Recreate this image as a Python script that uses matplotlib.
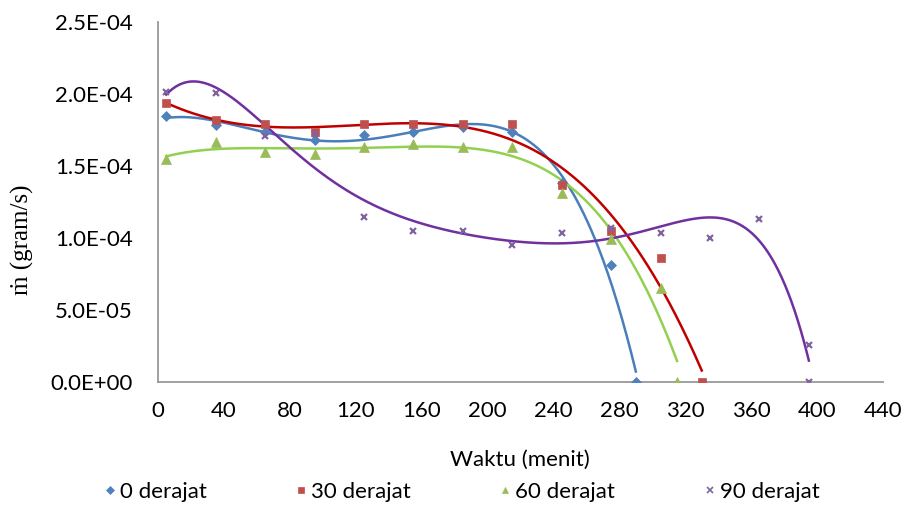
import numpy as np
import matplotlib
matplotlib.use("Agg")
import matplotlib.pyplot as plt

# ---- data ----
x0 = [5, 35, 65, 95, 125, 155, 185, 215, 245, 275, 290]
y0 = [1.847e-4, 1.785e-4, 1.734e-4, 1.681e-4, 1.715e-4, 1.734e-4, 1.773e-4, 1.734e-4, 1.38e-4, 8.13e-5, 0.0]

x30 = [5, 35, 65, 95, 125, 155, 185, 215, 245, 275, 305, 330]
y30 = [1.94e-4, 1.819e-4, 1.79e-4, 1.738e-4, 1.79e-4, 1.79e-4, 1.79e-4, 1.79e-4, 1.366e-4, 1.049e-4, 8.63e-5, 0.0]

x60 = [5, 35, 65, 95, 125, 155, 185, 215, 245, 275, 305, 315]
y60 = [1.549e-4, 1.669e-4, 1.60e-4, 1.583e-4, 1.634e-4, 1.65e-4, 1.634e-4, 1.634e-4, 1.315e-4, 9.93e-5, 6.55e-5, 0.0]

x90 = [5, 35, 65, 95, 125, 155, 185, 215, 245, 275, 305, 335, 365, 395, 395]
y90 = [2.016e-4, 2.005e-4, 1.708e-4, 1.72e-4, 1.148e-4, 1.049e-4, 1.049e-4, 9.5e-5, 1.032e-4, 1.067e-4, 1.032e-4, 9.98e-5, 1.13e-4, 2.57e-5, 0.0]

labels = ["0 derajat", "30 derajat", "60 derajat", "90 derajat"]
poly_orders = [4, 4, 4, 6]

xticks = list(range(0, 441, 40))
yticks = [0, 5e-5, 1e-4, 1.5e-4, 2e-4, 2.5e-4]

# ---- style ----
marker_colors = ["#4F81BD", "#C0504D", "#9BBB59", "#8064A2"]
line_colors = ["#4A7EBB", "#C00000", "#92D050", "#7030A0"]
markers = ["D", "s", "^", "x"]
msizes = [5, 6, 7, 5]

plt.rcParams['font.family'] = ['Lato', 'DejaVu Sans']

fig = plt.figure(figsize=(9.07, 5.08), dpi=100)
ax = fig.add_axes([158/907, 1-382/508, (883-158)/907, (382-22)/508])

series = [(x0, y0), (x30, y30), (x60, y60), (x90, y90)]
for (xs, ys), lab, mc, lc, mk, ms, order in zip(series, labels, marker_colors, line_colors, markers, msizes, poly_orders):
    xs_a = np.array(xs, float)
    ys_a = np.array(ys, float)
    ax.plot(xs_a, ys_a, linestyle='none', marker=mk, color=mc, markersize=ms,
            markeredgewidth=1.6 if mk == 'x' else 0.5, label=lab, zorder=3)
    coef = np.polyfit(xs_a, ys_a, order)
    xf = np.linspace(xs_a.min(), xs_a.max(), 400)
    ax.plot(xf, np.polyval(coef, xf), color=lc, lw=1.8, zorder=2)

ax.set_xlim(0, 440)
ax.set_ylim(0, 2.5e-4)
ax.set_xticks(xticks)
ax.set_yticks(yticks)
ax.set_yticklabels(["{:.1E}".format(v) for v in yticks])
ax.tick_params(axis='both', length=0, labelsize=16, colors='black')
ax.tick_params(axis='y', pad=18)
ax.tick_params(axis='x', pad=14)
for s in ['top', 'right']:
    ax.spines[s].set_visible(False)
for s in ['left', 'bottom']:
    ax.spines[s].set_color('#989898')
    ax.spines[s].set_linewidth(1.3)
ax.spines['bottom'].set_zorder(1)

fig.text(520/907, 1-460/508, "Waktu (menit)", ha='center', va='center', fontsize=16)
fig.text(22/907, 1-240/508, "ṁ (gram/s)", ha='center', va='center', rotation=90,
         fontsize=18, family=['Liberation Serif', 'DejaVu Serif'])

small_handles = []
for mk, mc in zip(markers, marker_colors):
    small_handles.append(plt.Line2D([], [], linestyle='none', marker=mk, color=mc,
                                    markersize=4, markeredgewidth=1.2 if mk == 'x' else 0.5))
fig.legend(small_handles, labels, loc='center', bbox_to_anchor=(463/907, 1-492/508), ncol=4,
           frameon=False, fontsize=16, handlelength=0.3, handletextpad=0.3,
           columnspacing=4.1, borderpad=0, borderaxespad=0)

fig.savefig("out.png", dpi=100)
